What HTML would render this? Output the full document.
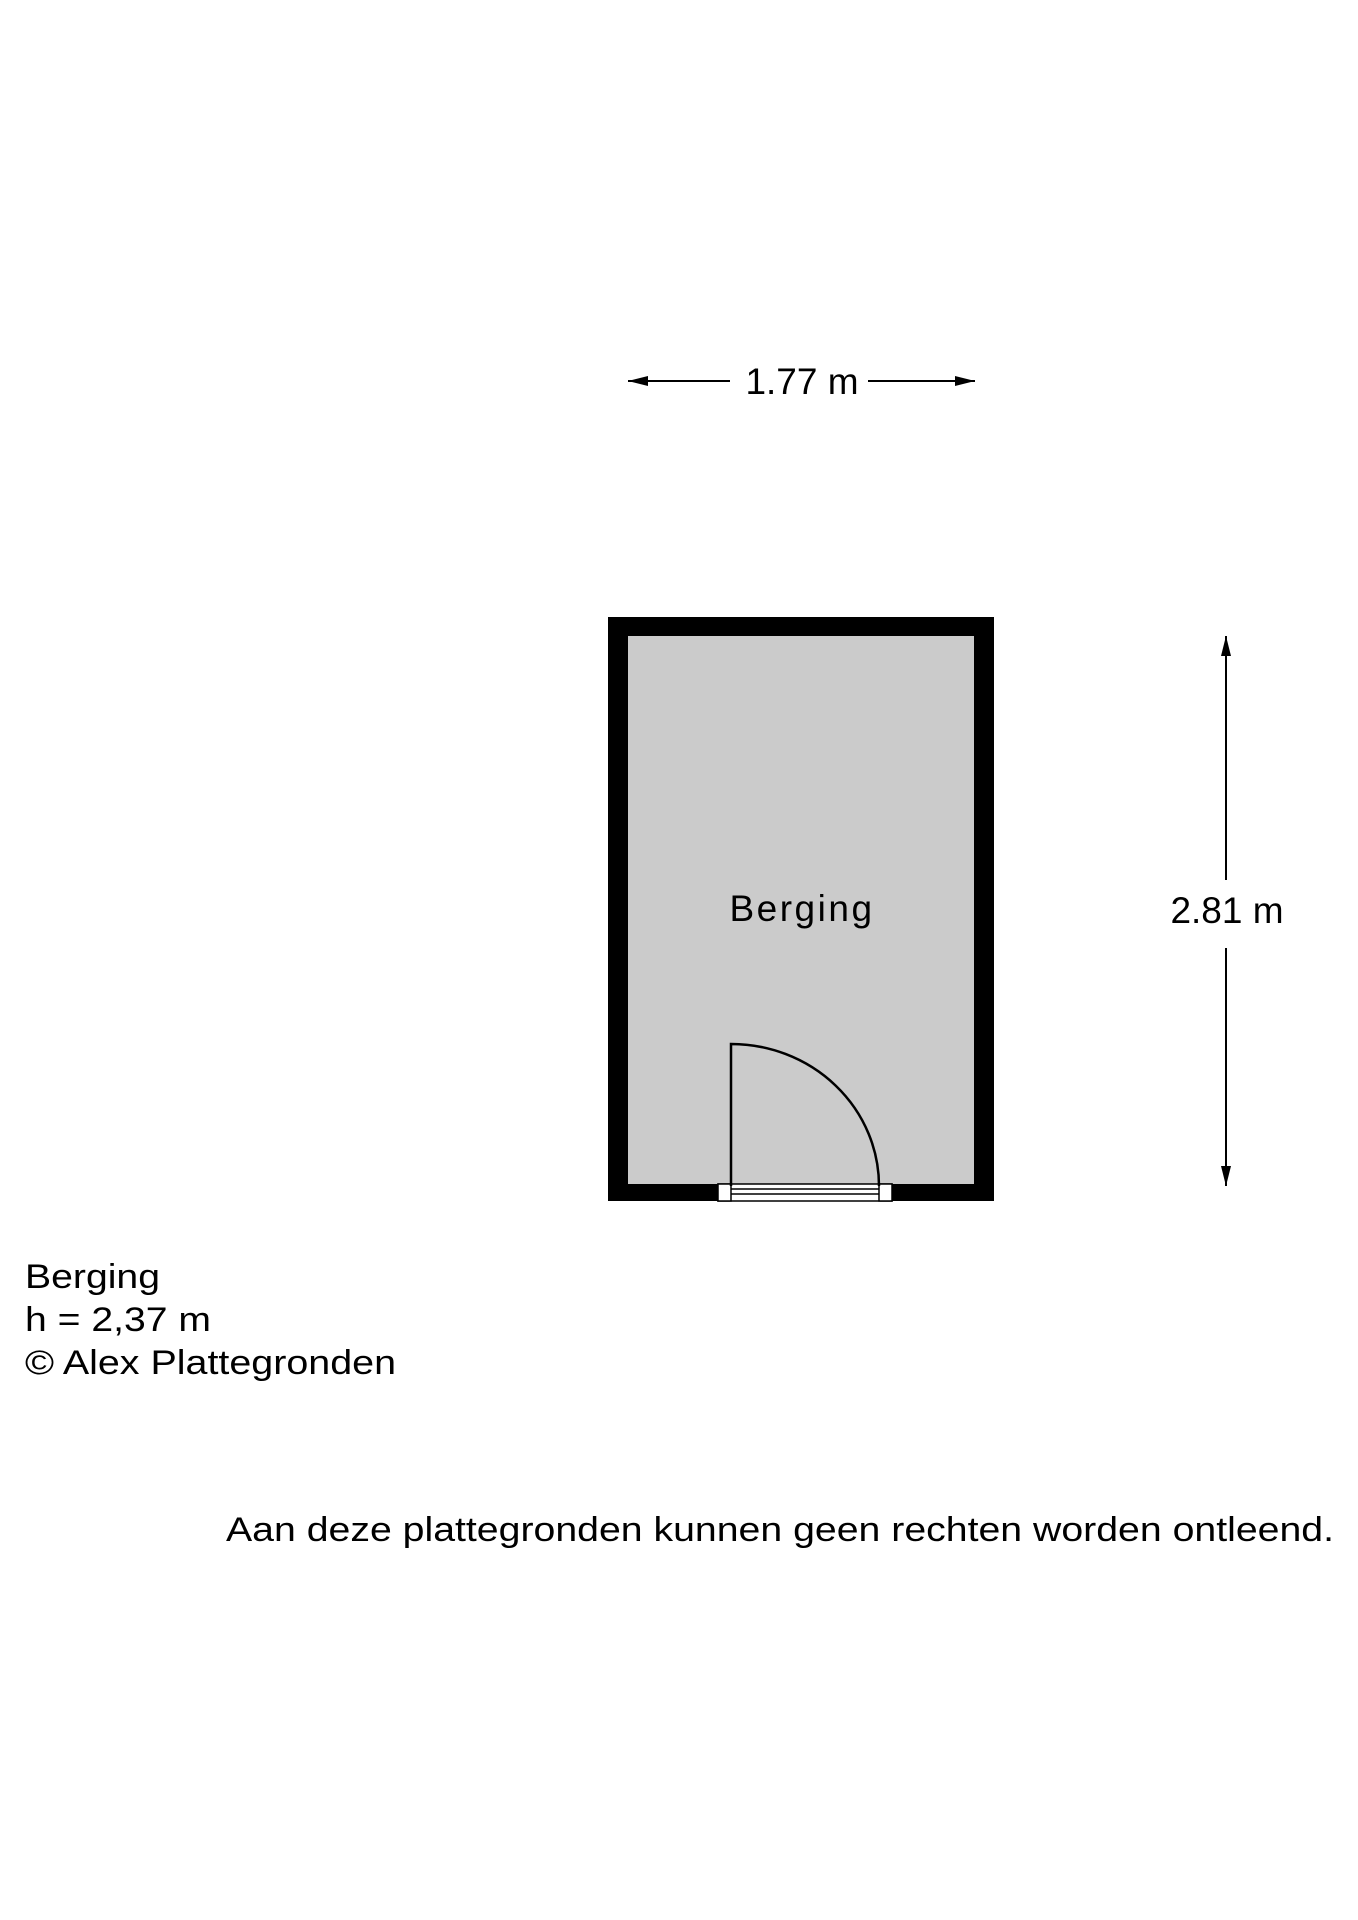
<!DOCTYPE html>
<html><head><meta charset="utf-8"><style>
html,body{margin:0;padding:0;background:#fff;}
svg{display:block;}
text{font-family:"Liberation Sans",sans-serif;fill:#000;}
</style></head><body>
<svg width="1358" height="1920" viewBox="0 0 1358 1920" xmlns="http://www.w3.org/2000/svg">
<defs>
<marker id="ah2" viewBox="0 0 20 10" refX="20" refY="5" markerWidth="20" markerHeight="10" markerUnits="userSpaceOnUse" orient="auto"><path d="M0,0 L20,5 L0,10 Z" fill="#000"/></marker>
</defs>
<line x1="730" y1="381" x2="628" y2="381" stroke="#000" stroke-width="2" marker-end="url(#ah2)"/>
<line x1="868" y1="381" x2="975" y2="381" stroke="#000" stroke-width="2" marker-end="url(#ah2)"/>
<text x="802" y="394" font-size="37" text-anchor="middle">1.77 m</text>
<rect x="608" y="617" width="386" height="584" fill="#000"/>
<rect x="628" y="636" width="346" height="548" fill="#cbcbcb"/>
<rect x="718" y="1184" width="174" height="17" fill="#fff" stroke="#000" stroke-width="1.5"/>
<rect x="718" y="1184" width="13" height="17" fill="#fff" stroke="#000" stroke-width="1.5"/>
<rect x="879" y="1184" width="13" height="17" fill="#fff" stroke="#000" stroke-width="1.5"/>
<line x1="731" y1="1189" x2="879" y2="1189" stroke="#000" stroke-width="1.5"/>
<line x1="731" y1="1194" x2="879" y2="1194" stroke="#000" stroke-width="1.5"/>
<path d="M731,1186 L731,1044 A148,142 0 0 1 879,1186" fill="none" stroke="#000" stroke-width="2.5"/>
<text x="802" y="921" font-size="37" text-anchor="middle" letter-spacing="2.5">Berging</text>
<line x1="1226" y1="880" x2="1226" y2="636" stroke="#000" stroke-width="2" marker-end="url(#ah2)"/>
<line x1="1226" y1="948" x2="1226" y2="1186" stroke="#000" stroke-width="2" marker-end="url(#ah2)"/>
<text x="1227" y="923" font-size="37" text-anchor="middle">2.81 m</text>
<text x="25" y="1288" font-size="34" textLength="135" lengthAdjust="spacingAndGlyphs">Berging</text>
<text x="25" y="1331" font-size="34" textLength="186" lengthAdjust="spacingAndGlyphs">h = 2,37 m</text>
<text x="25" y="1374" font-size="34" textLength="371" lengthAdjust="spacingAndGlyphs">© Alex Plattegronden</text>
<text x="226" y="1541" font-size="34" textLength="1108" lengthAdjust="spacingAndGlyphs">Aan deze plattegronden kunnen geen rechten worden ontleend.</text>
</svg>
</body></html>
